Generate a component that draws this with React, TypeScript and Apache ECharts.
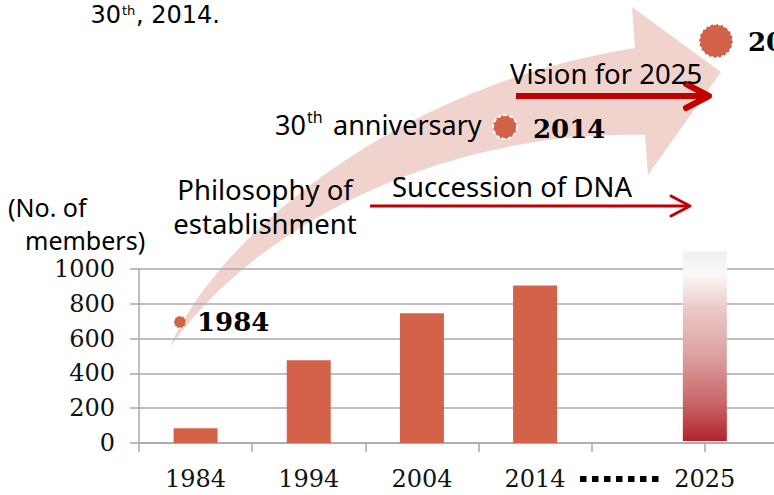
import React, { useEffect, useRef } from 'react';
import * as echarts from 'echarts';

// ---- data ----
const categories = ['1984', '1994', '2004', '2014', '', ''];
const members = [85, 475, 745, 905];
const visionCategories = ['', '', '', '', '', '2025', ''];
const visionBase = 12;
const visionTop = 1100; // estimated top of the 2025 "vision" bar
const yTicks = [0, 200, 400, 600, 800, 1000];

const SANS = 'Noto Sans';
const SERIF = 'DejaVu Serif';
const BAR = '#d26349';
const RED = '#c00000';
const GRID = '#a8a8a8';

echarts.graphic.registerShape(
  'growthArrow',
  echarts.graphic.extendPath(
    'M170,347 C215,240 395,85 635,48 L632,7 L721,72 L648,175 L645,135 C450,130 260,220 170,347 Z',
    {}
  )
);

function txt(x: number, y: number, text: string, size: number, opts: any = {}) {
  return {
    type: 'text',
    x,
    y,
    z: 100,
    style: {
      text,
      fontSize: size,
      fontFamily: opts.family || SANS,
      fontWeight: opts.weight || 'normal',
      fill: '#000',
      align: opts.align || 'left',
      verticalAlign: 'middle',
      lineHeight: opts.lineHeight || size,
    },
  };
}

export default function App() {
  const ref = useRef<HTMLDivElement>(null);
  useEffect(() => {
    if (!ref.current) return;
    const chart = echarts.init(ref.current, null, { renderer: 'svg' });
    const idx = visionCategories.indexOf('2025');
    const baseData = visionCategories.map((_, i) => (i === idx ? visionBase : null));
    const visData = visionCategories.map((_, i) => (i === idx ? visionTop - visionBase : null));
    const labelFont = { fontFamily: SERIF, fontSize: 24, color: '#111' };
    chart.setOption({
      animation: false,
      grid: { left: 139, top: 269, height: 174, width: 679, containLabel: false },
      xAxis: [
        {
          type: 'category',
          data: categories,
          position: 'bottom',
          axisLine: { show: true, lineStyle: { color: GRID, width: 1.5 } },
          axisTick: { show: true, length: 9, lineStyle: { color: GRID, width: 1.5 } },
          axisLabel: { ...labelFont, margin: 24, interval: 0 },
          splitLine: { show: false },
        },
        {
          type: 'category',
          data: visionCategories,
          boundaryGap: false,
          position: 'bottom',
          axisLine: { show: false },
          axisTick: { show: false },
          axisLabel: { ...labelFont, margin: 24, interval: 0 },
          splitLine: { show: false },
        },
      ],
      yAxis: {
        type: 'value',
        min: yTicks[0],
        max: yTicks[yTicks.length - 1],
        interval: yTicks[1] - yTicks[0],
        axisLine: { show: true, lineStyle: { color: GRID, width: 1.5 } },
        axisTick: { show: true, length: 9, lineStyle: { color: GRID, width: 1.5 } },
        axisLabel: { ...labelFont, margin: 24, formatter: (v: number) => String(v) },
        splitLine: { show: true, lineStyle: { color: GRID, width: 1.5 } },
      },
      series: [
        {
          type: 'bar',
          xAxisIndex: 0,
          data: members,
          barWidth: 44,
          itemStyle: { color: BAR },
        },
        {
          type: 'bar',
          xAxisIndex: 1,
          stack: 'vision',
          data: baseData,
          barWidth: 44,
          silent: true,
          itemStyle: { color: 'rgba(0,0,0,0)' },
        },
        {
          type: 'bar',
          xAxisIndex: 1,
          stack: 'vision',
          data: visData,
          barWidth: 44,
          clip: false,
          itemStyle: {
            color: new echarts.graphic.LinearGradient(0, 0, 0, 1, [
              { offset: 0, color: '#efefef' },
              { offset: 0.07, color: '#f6f6f6' },
              { offset: 0.12, color: '#fdf8f8' },
              { offset: 0.3, color: '#ecc9c9' },
              { offset: 0.55, color: '#dca0a1' },
              { offset: 0.8, color: '#c96668' },
              { offset: 1, color: '#b2232b' },
            ]),
          },
        },
      ],
      graphic: [
        { type: 'growthArrow', x: 0, y: 0, z: -10, silent: true, style: { fill: '#f1d3ce' } },
        // red arrows
        { type: 'line', z: 50, shape: { x1: 370, y1: 206, x2: 689, y2: 206 }, style: { stroke: RED, lineWidth: 3 } },
        { type: 'polyline', z: 50, shape: { points: [[671, 196], [690, 206], [671, 216]] }, style: { stroke: RED, lineWidth: 3, fill: null, lineCap: 'round', lineJoin: 'round' } },
        { type: 'line', z: 50, shape: { x1: 516, y1: 96, x2: 707, y2: 96 }, style: { stroke: RED, lineWidth: 6 } },
        { type: 'polyline', z: 50, shape: { points: [[686, 84], [709, 96], [686, 108]] }, style: { stroke: RED, lineWidth: 6, fill: null, lineCap: 'round', lineJoin: 'round' } },
        // milestone dots
        { type: 'circle', z: 60, shape: { cx: 180, cy: 322, r: 6 }, style: { fill: BAR, stroke: '#fff', lineWidth: 1, lineDash: [2, 2] } },
        { type: 'circle', z: 60, shape: { cx: 505, cy: 127, r: 12 }, style: { fill: BAR, stroke: '#fff', lineWidth: 2, lineDash: [4, 2] } },
        { type: 'circle', z: 60, shape: { cx: 716, cy: 41, r: 16 }, style: { fill: BAR, stroke: '#c0553c', lineWidth: 1.5, lineDash: [2, 3] } },
        // dotted separator on axis
        { type: 'line', z: 60, shape: { x1: 580, y1: 479, x2: 659, y2: 479 }, style: { stroke: '#000', lineWidth: 6, lineDash: [6.5, 5.5] } },
        // texts
        txt(121, 15, '30', 24, { align: 'right', family: 'DejaVu Sans' }),
        txt(122, 10, 'th', 13, { family: 'DejaVu Sans' }),
        txt(136, 15, ', 2014.', 24, { family: 'DejaVu Sans' }),
        txt(306, 124, '30', 27, { align: 'right' }),
        txt(307, 117, 'th', 16),
        txt(333, 124, 'anniversary', 27),
        txt(510, 73, 'Vision for 2025', 27.5),
        txt(392, 186, 'Succession of DNA', 27.5),
        txt(265, 206, 'Philosophy of\nestablishment', 27.5, { align: 'center', lineHeight: 34 }),
        txt(8, 207, '(No. of', 25),
        txt(25, 240, 'members)', 25),
        txt(197, 322, '1984', 26, { family: SERIF, weight: 'bold' }),
        txt(533, 129, '2014', 26, { family: SERIF, weight: 'bold' }),
        txt(748, 42, '2025', 26, { family: SERIF, weight: 'bold' }),
      ],
    });
    return () => chart.dispose();
  }, []);
  return (
    <div
      style={{ position: 'fixed', left: 0, top: 0, width: 774, height: 495, overflow: 'hidden', background: '#fff' }}
    >
      <div ref={ref} style={{ width: 830, height: 495 }} />
    </div>
  );
}
